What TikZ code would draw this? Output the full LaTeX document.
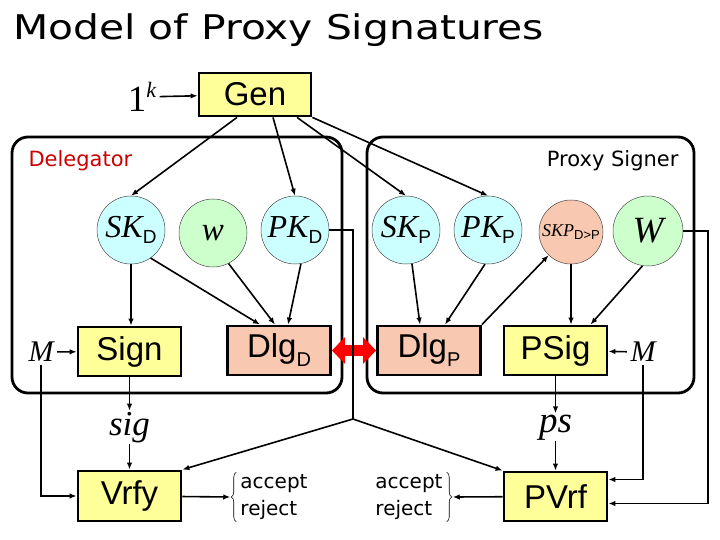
\documentclass[tikz,border=0pt]{standalone}
\usepackage{fontspec}
\setmainfont{Liberation Sans}
\newfontfamily\comicfont{DejaVu Sans}
\newfontfamily\comictitle[FakeStretch=1.2]{DejaVu Sans}
\newfontfamily\timesfont{Liberation Serif}
\usetikzlibrary{arrows.meta,calc,decorations.pathreplacing}

\definecolor{algyellow}{RGB}{255,255,153}
\definecolor{dlgpeach}{RGB}{248,200,176}
\definecolor{keycyan}{RGB}{204,255,255}
\definecolor{keygreen}{RGB}{204,255,204}
\definecolor{delegred}{RGB}{204,0,0}

\newcommand{\mvar}[2]{{\timesfont\itshape\fontsize{#1}{#1}\selectfont #2}}
\newcommand{\keylab}[2]{\mvar{32}{#1}\raisebox{-6pt}{\fontsize{19}{19}\selectfont #2}}

\begin{document}
\begin{tikzpicture}[x=1pt,y=-1pt,
    algbox/.style={draw, line width=2.8pt, fill=algyellow, minimum width=103pt,
        minimum height=49pt, inner sep=0pt, font=\fontsize{33}{33}\selectfont},
    dlgbox/.style={algbox, fill=dlgpeach},
    keynode/.style={circle, draw=black!70, line width=0.5pt, fill=keycyan,
        minimum size=68pt, inner sep=0pt},
    conn/.style={-{Latex[length=7pt,width=5.5pt]}, line width=1.6pt},
    wire/.style={line width=1.6pt},
    party/.style={line width=2.8pt, rounded corners=16pt},
    comictxt/.style={font=\comicfont\fontsize{21}{21}\selectfont},
    outcome/.style={font=\comicfont\fontsize{20}{27}\selectfont, inner sep=0pt, align=left},
    curly/.style={decorate, decoration={brace, amplitude=5pt}, line width=0.6pt}]

    \useasboundingbox (0,0) rectangle (720,540);

    % --- Title ---
    \node[anchor=base west, font=\comictitle\fontsize{34}{34}\selectfont] (title) at (10,40) {Model of Proxy Signatures};

    % --- Key generation ---
    \node[algbox, minimum width=112pt, minimum height=43pt] (gen) at (255,94.5) {Gen};
    \node (sec) at (142,97) {{\timesfont\fontsize{37}{37}\selectfont 1}\raisebox{14pt}{\mvar{22}{k}}};

    % --- Party boxes ---
    \draw[party] (12,137) rectangle (342,393);
    \draw[party] (367,137) rectangle (694,393);
    \node[comictxt, text=delegred, anchor=base west] (dlab) at (25,167) {Delegator};
    \node[comictxt, anchor=base east] (plab) at (682,167) {Proxy Signer};

    % --- Keys ---
    \node[keynode] (skd) at (131,230) {\keylab{SK}{D}};
    \node[keynode, fill=keygreen] (w) at (213,233) {\mvar{33}{w}};
    \node[keynode] (pkd) at (295,230) {\keylab{PK}{D}};
    \node[keynode] (skp) at (406,230) {\keylab{SK}{P}};
    \node[keynode] (pkp) at (488,230) {\keylab{PK}{P}};
    \node[keynode, fill=dlgpeach, minimum size=64pt] (skdp) at (571,232)
        {\mvar{18}{SKP}\raisebox{-3pt}{\fontsize{13}{13}\selectfont D>P}};
    \node[keynode, fill=keygreen, minimum size=70pt] (wp) at (648,231) {\mvar{37}{W}};

    % --- Algorithms ---
    \node[algbox] (sign) at (129.5,351.5) {Sign};
    \node[dlgbox] (dlgd) at (279,350.5) {Dlg\raisebox{-9pt}{\fontsize{20}{20}\selectfont D}};
    \node[dlgbox] (dlgp) at (429,350.5) {Dlg\raisebox{-9pt}{\fontsize{20}{20}\selectfont P}};
    \node[algbox] (psig) at (555.5,350.5) {PSig};
    \node (ml) at (41,352) {\mvar{30}{M}};
    \node (mr) at (643,352) {\mvar{30}{M}};

    % --- Verification ---
    \node[anchor=base, inner sep=1pt] (sig) at (129.5,435) {\mvar{35}{sig}};
    \node[anchor=base, inner sep=1pt] (ps) at (555.5,432) {\mvar{37}{ps}};
    \node[algbox, minimum height=50pt] (vrfy) at (129.5,496) {Vrfy};
    \node[algbox] (pvrf) at (555.5,496.5) {PVrf};
    \node[outcome] (outd) at (274,497) {accept\\reject};
    \node[outcome] (outp) at (409,497) {accept\\reject};
    \draw[curly] ([xshift=-4pt,yshift=-2pt]outd.south west) -- ([xshift=-4pt,yshift=2pt]outd.north west);
    \draw[curly] ([xshift=4pt,yshift=2pt]outp.north east) -- ([xshift=4pt,yshift=-2pt]outp.south east);

    % --- Connectors ---
    \draw[conn] (sec) -- (gen);
    \draw[conn] ([xshift=-18pt]gen.south) -- (skd.north);
    \draw[conn] ([xshift=18pt]gen.south) -- (pkd.north);
    \draw[conn] ([xshift=42pt]gen.south) -- (skp.north);
    \draw[conn] (gen.south east) -- (pkp.north);

    % delegator side
    \draw[conn] (skd.south) -- (skd.south |- sign.north);
    \draw[conn] (skd.-55) -- ([xshift=-19pt]dlgd.north);
    \draw[conn] (w.-63) -- ([xshift=-4pt]dlgd.north);
    \draw[conn] (pkd.-80) -- ([xshift=9pt]dlgd.north);
    \draw[conn] (ml) -- (sign);

    % proxy signer side
    \draw[conn] (skp.-80) -- ([xshift=-9pt]dlgp.north);
    \draw[conn] (pkp.-95) -- ([xshift=16pt]dlgp.north);
    \draw[conn] (dlgp.north east) -- (skdp);
    \draw[conn] (skdp.south) -- (skdp.south |- psig.north);
    \draw[conn] (wp.-99) -- ([xshift=35pt]psig.north);
    \draw[conn] (mr) -- (psig);

    % delegation protocol
    \draw[{Triangle[length=13pt,width=26pt]}-{Triangle[length=13pt,width=26pt]},
        line width=11pt, red] (dlgd.east) -- (dlgp.west);

    % signatures and verification
    \draw[conn] (sign) -- (sig);
    \draw[conn] (sig) -- (vrfy);
    \draw[conn] (psig) -- (ps);
    \draw[conn] (ps) -- (pvrf);
    \draw[conn] (ml.south) |- (vrfy.west);
    \draw[conn] (mr.south) |- ([yshift=17pt]pvrf.east);
    \draw[conn] (wp.east) -- ++(25,0) |- ([yshift=-7pt]pvrf.east);

    % public key of the delegator goes to both verifiers
    \coordinate (split) at (353,419);
    \draw[wire] (pkd.east) -| (split);
    \draw[conn] (split) -- (vrfy.north east);
    \draw[conn] (split) -- (pvrf.north west);

    \draw[conn] (vrfy) -- ([xshift=-10pt]outd.west);
    \draw[conn] (pvrf) -- ([xshift=10pt]outp.east);

\end{tikzpicture}
\end{document}
